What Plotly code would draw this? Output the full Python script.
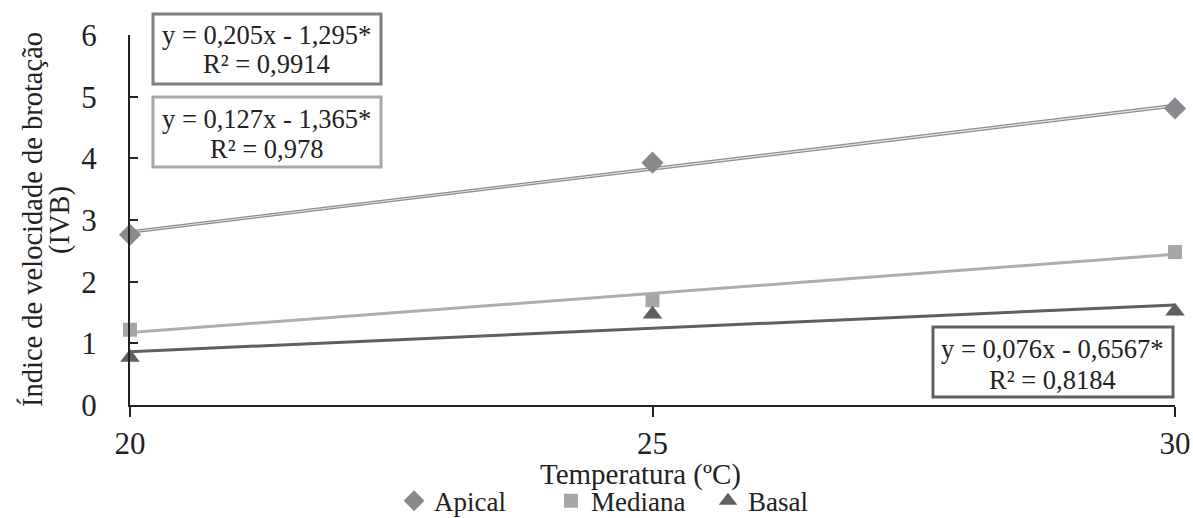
import plotly.graph_objects as go

temperatura = [20, 25, 30]
apical = [2.76, 3.93, 4.81]
mediana = [1.22, 1.70, 2.48]
basal = [0.77, 1.47, 1.52]

# regression coefficients (slope, intercept) as shown in the chart
fit_apical = (0.205, -1.295)
fit_mediana = (0.127, -1.365)
fit_basal = (0.076, -0.6567)

eq_apical = ["y = 0,205x - 1,295*", "R² = 0,9914"]
eq_mediana = ["y = 0,127x - 1,365*", "R² = 0,978"]
eq_basal = ["y = 0,076x - 0,6567*", "R² = 0,8184"]

FONT = "Liberation Serif"

def fit(c):
    xs = [temperatura[0], temperatura[-1]]
    return xs, [c[0] * x + c[1] for x in xs]

fig = go.Figure()

# trendlines
xa, ya = fit(fit_apical)
fig.add_trace(go.Scatter(x=xa, y=ya, mode="lines", line=dict(color="#8c8c8e", width=3.6),
                         showlegend=False, hoverinfo="skip"))
fig.add_trace(go.Scatter(x=xa, y=ya, mode="lines", line=dict(color="#e6e6e6", width=1.1),
                         showlegend=False, hoverinfo="skip"))
xm, ym = fit(fit_mediana)
fig.add_trace(go.Scatter(x=xm, y=ym, mode="lines", line=dict(color="#b0acac", width=3),
                         showlegend=False, hoverinfo="skip"))
xb, yb = fit(fit_basal)
fig.add_trace(go.Scatter(x=xb, y=yb, mode="lines", line=dict(color="#606062", width=3),
                         showlegend=False, hoverinfo="skip"))

# data points
fig.add_trace(go.Scatter(x=temperatura, y=apical, mode="markers", name="Apical", cliponaxis=False,
                         marker=dict(symbol="diamond", size=17, color="#8a8a8e")))
fig.add_trace(go.Scatter(x=temperatura, y=mediana, mode="markers", name="Mediana", cliponaxis=False,
                         marker=dict(symbol="square", size=14, color="#aaa6a6")))
fig.add_trace(go.Scatter(x=temperatura, y=basal, mode="markers", name="Basal", cliponaxis=False,
                         marker=dict(symbol="triangle-up", size=17, color="#5f5f61")))

ann_font = dict(family=FONT, size=26.5, color="#222")

# equation boxes: (x0, x1, y0, y1) in paper units, border colour, text line y (data), texts
boxes = [
    ((0.0220, 0.2402, 0.8676, 1.0568), "#7f7f7f", (6.00, 5.525), eq_apical),
    ((0.0220, 0.2402, 0.6432, 0.8324), "#a8a8a8", (4.638, 4.151), eq_mediana),
    ((0.7684, 0.9981, 0.0216, 0.2108), "#606060", (0.908, 0.405), eq_basal),
]
for (x0, x1, y0, y1), col, ys, texts in boxes:
    fig.add_shape(type="rect", xref="paper", yref="paper", x0=x0, x1=x1, y0=y0, y1=y1,
                  line=dict(color=col, width=3), fillcolor="white", layer="above")
    for yy, t in zip(ys, texts):
        fig.add_annotation(x=(x0 + x1) / 2, y=yy, xref="paper", yref="y", text=t,
                           showarrow=False, font=ann_font, xanchor="center", yanchor="middle")

# y-axis title as two rotated lines
ytitle = ["Índice de velocidade de brotação", "(IVB)"]
for px, t in zip([32, 60], ytitle):
    fig.add_annotation(x=(px - 130) / 1045, y=0.5, xref="paper", yref="paper", text=t,
                       textangle=-90, showarrow=False, xanchor="center", yanchor="middle",
                       font=dict(family=FONT, size=28.5, color="#222"))

# x-axis title
fig.add_annotation(x=(640 - 130) / 1045, y=(405 - 474) / 370, xref="paper", yref="paper",
                   text="Temperatura (ºC)", showarrow=False, xanchor="center", yanchor="middle",
                   font=dict(family=FONT, size=29, color="#222"))

fig.update_layout(
    width=1193, height=518,
    margin=dict(l=130, r=18, t=35, b=113, autoexpand=False),
    paper_bgcolor="white", plot_bgcolor="white",
    font=dict(family=FONT, size=27, color="#222"),
    showlegend=True,
    legend=dict(orientation="h", x=0.478, xanchor="center", y=-0.26, yanchor="middle",
                font=dict(family=FONT, size=27, color="#222"),
                itemwidth=30, tracegroupgap=0, entrywidth=112),
    xaxis=dict(range=[20, 30], tickvals=temperatura, showgrid=False, zeroline=False,
               showline=True, linecolor="#222", linewidth=2, automargin=False,
               ticks="outside", ticklen=10, tickwidth=2, tickcolor="#222",
               tickfont=dict(size=31), ticklabelstandoff=0),
    yaxis=dict(range=[0, 6], dtick=1, showgrid=False, zeroline=False,
               showline=True, linecolor="#222", linewidth=2, automargin=False,
               ticks="inside", ticklen=8, tickwidth=2, tickcolor="#222",
               tickfont=dict(size=31), ticklabelstandoff=25),
)

fig.write_html("out.html")
